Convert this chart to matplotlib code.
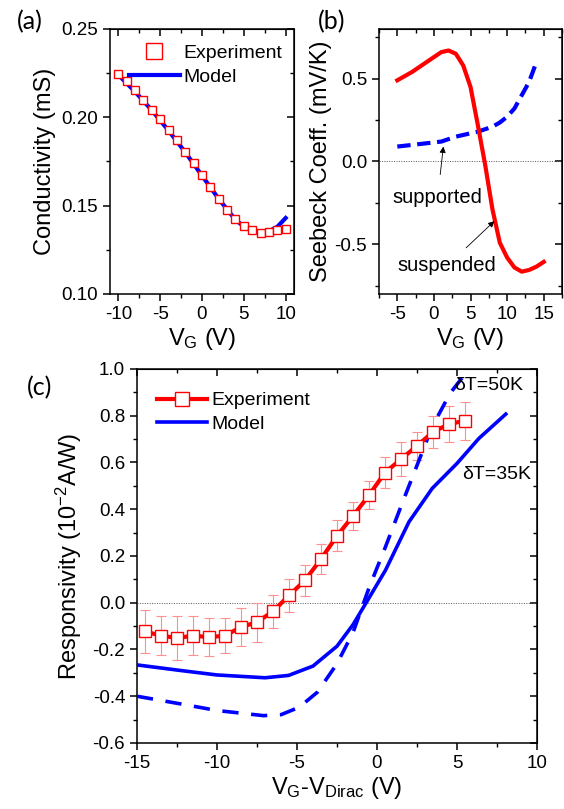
import matplotlib
matplotlib.use("Agg")
import matplotlib.pyplot as plt
from matplotlib.ticker import MultipleLocator, FormatStrFormatter

plt.rcParams['font.family'] = ['Liberation Sans', 'DejaVu Sans']
plt.rcParams['mathtext.default'] = 'regular'
plt.rcParams['axes.unicode_minus'] = False

# (a) conductivity vs gate voltage
vg_a = [-10, -9, -8, -7, -6, -5, -4, -3, -2, -1, 0, 1, 2, 3, 4, 5, 6, 7, 8, 9, 10]
cond_exp = [0.2246, 0.2203, 0.2152, 0.2100, 0.2043, 0.1991, 0.1930, 0.1870, 0.1805, 0.1739,
            0.1673, 0.1605, 0.1540, 0.1476, 0.1423, 0.1382, 0.1361, 0.1348, 0.1352, 0.1361, 0.1370]
vg_model_a = [-10, -8, -6, -4, -2, 0, 2, 4, 5, 6, 7, 8, 9, 10]
cond_model = [0.2240, 0.2145, 0.2040, 0.1925, 0.1802, 0.1670, 0.1538, 0.1420, 0.1382, 0.1360,
              0.1350, 0.1355, 0.1380, 0.1430]

# (b) Seebeck coefficient
vg_b_susp = [-5, -3, -1, 0, 1, 2, 3, 4, 5, 6, 7, 8, 9, 10, 11, 12, 13, 14, 15]
seebeck_susp = [0.49, 0.54, 0.60, 0.63, 0.66, 0.67, 0.65, 0.58, 0.45, 0.22, -0.02, -0.29,
                -0.49, -0.58, -0.64, -0.665, -0.655, -0.635, -0.606]
vg_b_supp = [-5, -3, -1, 0, 1, 3, 5, 6, 7, 8, 9, 10, 11, 12, 13, 14]
seebeck_supp = [0.09, 0.10, 0.11, 0.115, 0.12, 0.15, 0.17, 0.18, 0.195, 0.21, 0.235, 0.27,
                0.32, 0.40, 0.48, 0.60]

# (c) responsivity
vd_exp = [-14.5, -13.5, -12.5, -11.5, -10.5, -9.5, -8.5, -7.5, -6.5, -5.5, -4.5, -3.5, -2.5,
          -1.5, -0.5, 0.5, 1.5, 2.5, 3.5, 4.5, 5.5]
resp_exp = [-0.123, -0.141, -0.151, -0.141, -0.147, -0.141, -0.104, -0.083, -0.037, 0.031,
            0.096, 0.187, 0.286, 0.371, 0.460, 0.557, 0.614, 0.671, 0.731, 0.764, 0.779]
resp_err = [0.093, 0.084, 0.095, 0.084, 0.080, 0.075, 0.080, 0.084, 0.070, 0.070, 0.066,
            0.066, 0.066, 0.060, 0.060, 0.066, 0.073, 0.060, 0.070, 0.076, 0.081]
vd_35 = [-15, -12.26, -10, -7, -5.53, -4, -2.5, -1.49, -0.59, 0.53, 2, 3.45, 5, 6.37, 8.05]
resp_35 = [-0.266, -0.29, -0.309, -0.321, -0.311, -0.271, -0.186, -0.093, 0.01, 0.139,
           0.346, 0.489, 0.596, 0.703, 0.807]
vd_50 = [-15, -12.26, -10, -7.1, -6, -4.86, -3.73, -2.5, -1.49, -0.48, 0.53, 1.65, 2.55,
         3.45, 4.57, 6.2]
resp_50 = [-0.40, -0.433, -0.461, -0.483, -0.479, -0.447, -0.383, -0.261, -0.126, 0.067,
           0.239, 0.439, 0.596, 0.753, 0.896, 1.04]

RED = '#ff0000'
BLUE = '#0000ff'
TICK_FS = 13.5
LABEL_FS = 17


def style_axes(ax, xmaj, xmin, ymaj, ymin):
	for s in ax.spines.values():
		s.set_linewidth(1.1)
	ax.xaxis.set_major_locator(MultipleLocator(xmaj))
	ax.xaxis.set_minor_locator(MultipleLocator(xmin))
	ax.yaxis.set_major_locator(MultipleLocator(ymaj))
	ax.yaxis.set_minor_locator(MultipleLocator(ymin))
	ax.tick_params(which='major', direction='out', length=5, width=1.1, labelsize=TICK_FS)
	ax.tick_params(which='minor', direction='out', length=3, width=1.0)
	# mirrored ticks pointing inward on top and right
	top = ax.secondary_xaxis('top')
	top.xaxis.set_major_locator(MultipleLocator(xmaj))
	top.xaxis.set_minor_locator(MultipleLocator(xmin))
	top.tick_params(which='major', direction='in', length=5, width=1.1, labeltop=False)
	top.tick_params(which='minor', direction='in', length=3, width=1.0)
	right = ax.secondary_yaxis('right')
	right.yaxis.set_major_locator(MultipleLocator(ymaj))
	right.yaxis.set_minor_locator(MultipleLocator(ymin))
	right.tick_params(which='major', direction='in', length=5, width=1.1, labelright=False)
	right.tick_params(which='minor', direction='in', length=3, width=1.0)


fig = plt.figure(figsize=(5.64, 8.09), dpi=100)

# ---- (a)
axa = fig.add_axes([0.195, 0.6366, 0.3263, 0.3276])
axa.plot(vg_model_a, cond_model, color=BLUE, lw=3, label='Model', zorder=2)
axa.plot(vg_a, cond_exp, 's', ms=6, mfc='white', mec=RED, mew=1.0, label='Experiment', zorder=3)
axa.set_xlim(-11, 11)
axa.set_ylim(0.10, 0.25)
style_axes(axa, 5, 2.5, 0.05, 0.025)
axa.yaxis.set_major_formatter(FormatStrFormatter('%.2f'))
axa.set_xlabel('V$_G$ (V)', fontsize=LABEL_FS, labelpad=2)
axa.set_ylabel('Conductivity (mS)', fontsize=LABEL_FS, labelpad=4)
h, l = axa.get_legend_handles_labels()
axa.legend(h[::-1], l[::-1], loc='upper left', bbox_to_anchor=(0.04, 0.985), frameon=False,
           fontsize=14, handlelength=2.6, handletextpad=0.2, labelspacing=0.3,
           borderaxespad=0.2, markerscale=1.9)

# ---- (b)
axb = fig.add_axes([0.672, 0.6366, 0.3245, 0.3276])
axb.axhline(0, color='#555555', lw=0.7, ls=(0, (1, 1.5)), zorder=1)
axb.plot(vg_b_susp, seebeck_susp, color=RED, lw=3, zorder=3)
axb.plot(vg_b_supp, seebeck_supp, color=BLUE, lw=3, dashes=(3.2, 1.6), zorder=2)
axb.set_xlim(-7.5, 17.5)
axb.set_ylim(-0.8, 0.8)
style_axes(axb, 5, 2.5, 0.5, 0.25)
axb.set_xlabel('V$_G$ (V)', fontsize=LABEL_FS, labelpad=2)
axb.set_ylabel('Seebeck Coeff. (mV/K)', fontsize=LABEL_FS, labelpad=2)
axb.annotate('supported', xy=(1.29, 0.09), xytext=(0.5, -0.22), fontsize=14.5,
             ha='center', va='center',
             arrowprops=dict(arrowstyle='-|>', color='black', lw=0.6, mutation_scale=9,
                             shrinkA=8, shrinkB=0))
axb.annotate('suspended', xy=(8.26, -0.36), xytext=(1.8, -0.63), fontsize=14.5,
             ha='center', va='center',
             arrowprops=dict(arrowstyle='-|>', color='black', lw=0.6, mutation_scale=9,
                             shrinkA=6, shrinkB=0))

# ---- (c)
axc = fig.add_axes([0.2429, 0.0816, 0.7092, 0.4623])
axc.axhline(0, color='#555555', lw=0.7, ls=(0, (1, 1.5)), zorder=1)
axc.errorbar(vd_exp, resp_exp, yerr=resp_err, fmt='none', ecolor='#ff9090', elinewidth=0.8,
             capsize=3.5, capthick=0.8, zorder=2)
axc.plot(vd_35, resp_35, color=BLUE, lw=2.6, label='Model', zorder=3)
axc.plot(vd_50, resp_50, color=BLUE, lw=2.6, dashes=(4.5, 3.5), zorder=3)
axc.plot(vd_exp, resp_exp, '-s', color=RED, lw=3, ms=8, mfc='white', mec=RED, mew=1.0,
         label='Experiment', zorder=4)
axc.set_xlim(-15, 10)
axc.set_ylim(-0.6, 1.0)
style_axes(axc, 5, 2.5, 0.2, 0.1)
axc.yaxis.set_major_formatter(FormatStrFormatter('%.1f'))
axc.set_xlabel('V$_G$-V$_{Dirac}$ (V)', fontsize=LABEL_FS, labelpad=2)
axc.set_ylabel('Responsivity (10$^{-2}$A/W)', fontsize=LABEL_FS, labelpad=6)
axc.text(4.85, 0.93, '\u03b4T=50K', fontsize=14, ha='left', va='center')
axc.text(5.3, 0.55, '\u03b4T=35K', fontsize=14, ha='left', va='center')
h, l = axc.get_legend_handles_labels()
axc.legend(h[::-1], l[::-1], loc='upper left', bbox_to_anchor=(0.02, 0.97), frameon=False,
           fontsize=14, handlelength=2.6, handletextpad=0.2, labelspacing=0.3,
           borderaxespad=0.2, markerscale=1.3)

# panel labels
fig.text(30 / 564, 1 - 22 / 809, '(a)', fontsize=18, family='Lato', ha='center', va='center')
fig.text(332 / 564, 1 - 22 / 809, '(b)', fontsize=18, family='Lato', ha='center', va='center')
fig.text(40 / 564, 1 - 388 / 809, '(c)', fontsize=18, family='Lato', ha='center', va='center')

fig.savefig('out.png', dpi=100)
